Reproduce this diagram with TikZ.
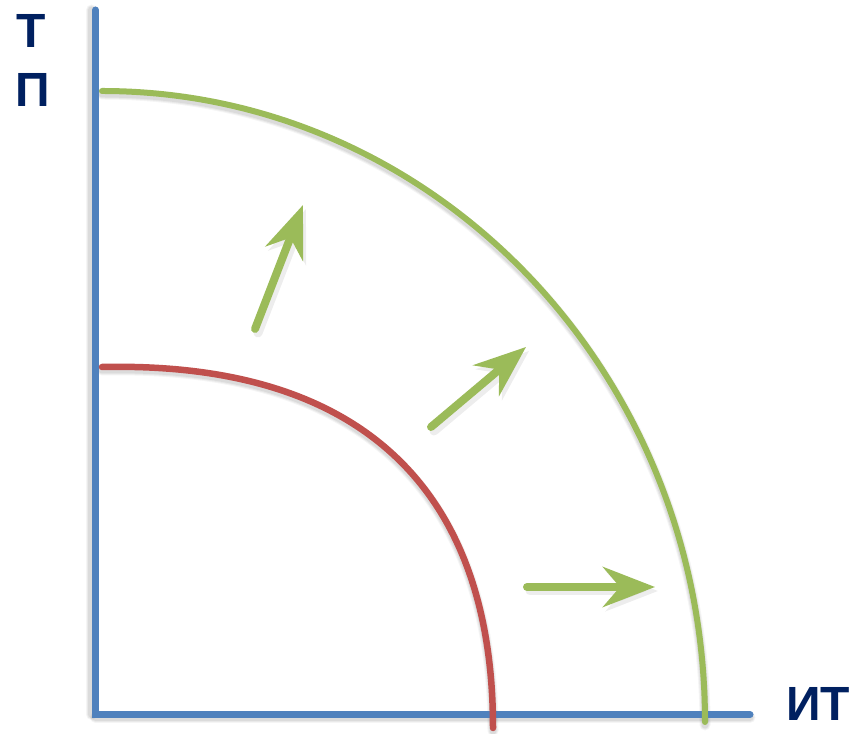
\documentclass[tikz,border=0pt]{standalone}
\usepackage{fontspec}
\setmainfont{Liberation Sans}
\usetikzlibrary{arrows.meta}
\definecolor{axisblue}{HTML}{4F81BD}
\definecolor{curvered}{HTML}{C0504D}
\definecolor{curvegreen}{HTML}{9BBB59}
\definecolor{labelnavy}{HTML}{002060}
\tikzset{
  axisline/.style={draw=axisblue, line width=7pt, line cap=round},
  redcurve/.style={draw=curvered, line width=6.5pt, line cap=round},
  greencurve/.style={draw=curvegreen, line width=6pt, line cap=round},
  bighead/.style={-{Stealth[length=52pt, width=40pt, inset=17pt]}},
  shiftarrow/.style={draw=curvegreen, fill=curvegreen, line width=8pt, line cap=round, bighead},
  shadowline/.style={draw=black, line cap=round},
  axislabel/.style={text=labelnavy, font=\bfseries\fontsize{48}{50}\selectfont, inner sep=0pt, anchor=base}
}
\begin{document}
\begin{tikzpicture}[x=1pt,y=1pt]
\useasboundingbox (0,0) rectangle (858,733);
% coordinates
\coordinate (ytop) at (95.5,723);
\coordinate (orig) at (95.5,18.5);
\coordinate (xend) at (750,18.5);
\coordinate (rstart) at (102,366);
\coordinate (rend) at (493,5);
\coordinate (gstart) at (102,642);
\coordinate (a1s) at (255,404);
\coordinate (a1e) at (303,528);
\coordinate (a2s) at (431,306);
\coordinate (a2e) at (526,386);
\coordinate (a3s) at (527,146);
\coordinate (a3e) at (655,146);
% shadows
\foreach \w/\o in {11/0.04, 9/0.05, 7/0.06} {
  \draw[shadowline, opacity=\o, line width=\w pt] ([xshift=-4pt]ytop) -- ([xshift=-4pt]orig);
  \draw[shadowline, opacity=\o, line width=\w pt] ([yshift=-3pt]orig) -- ([yshift=-3pt]xend);
  \draw[shadowline, opacity=\o, line width=\w pt] ([yshift=-3pt]rstart) .. controls ([yshift=-3pt]376,372) and ([yshift=-3pt]493,229) .. ([yshift=-3pt]rend);
  \draw[shadowline, opacity=\o, line width=\w pt] ([yshift=-3pt]gstart) arc[start angle=90, end angle=0, x radius=603, y radius=631];
}
\foreach \s/\e in {a1s/a1e, a2s/a2e, a3s/a3e} {
  \draw[shadowline, opacity=0.07, line width=9pt, bighead]
    ([shift={(3pt,-4pt)}]\s) -- ([shift={(3pt,-4pt)}]\e);
}
% axes
\draw[axisline] (ytop) -- (orig) -- (xend);
% curves
\draw[redcurve] (rstart) .. controls (376,372) and (493,229) .. (rend);
\draw[greencurve] (gstart) arc[start angle=90, end angle=0, x radius=603, y radius=631] coordinate (gend);
% arrows
\draw[shiftarrow] (a1s) -- (a1e);
\draw[shiftarrow] (a2s) -- (a2e);
\draw[shiftarrow] (a3s) -- (a3e);
% labels
\node[axislabel] (lt) at (31,685) {Т};
\node[axislabel] (lp) at (33,626) {П};
\node[axislabel] (lit) at (818,13) {ИТ};
\end{tikzpicture}
\end{document}
